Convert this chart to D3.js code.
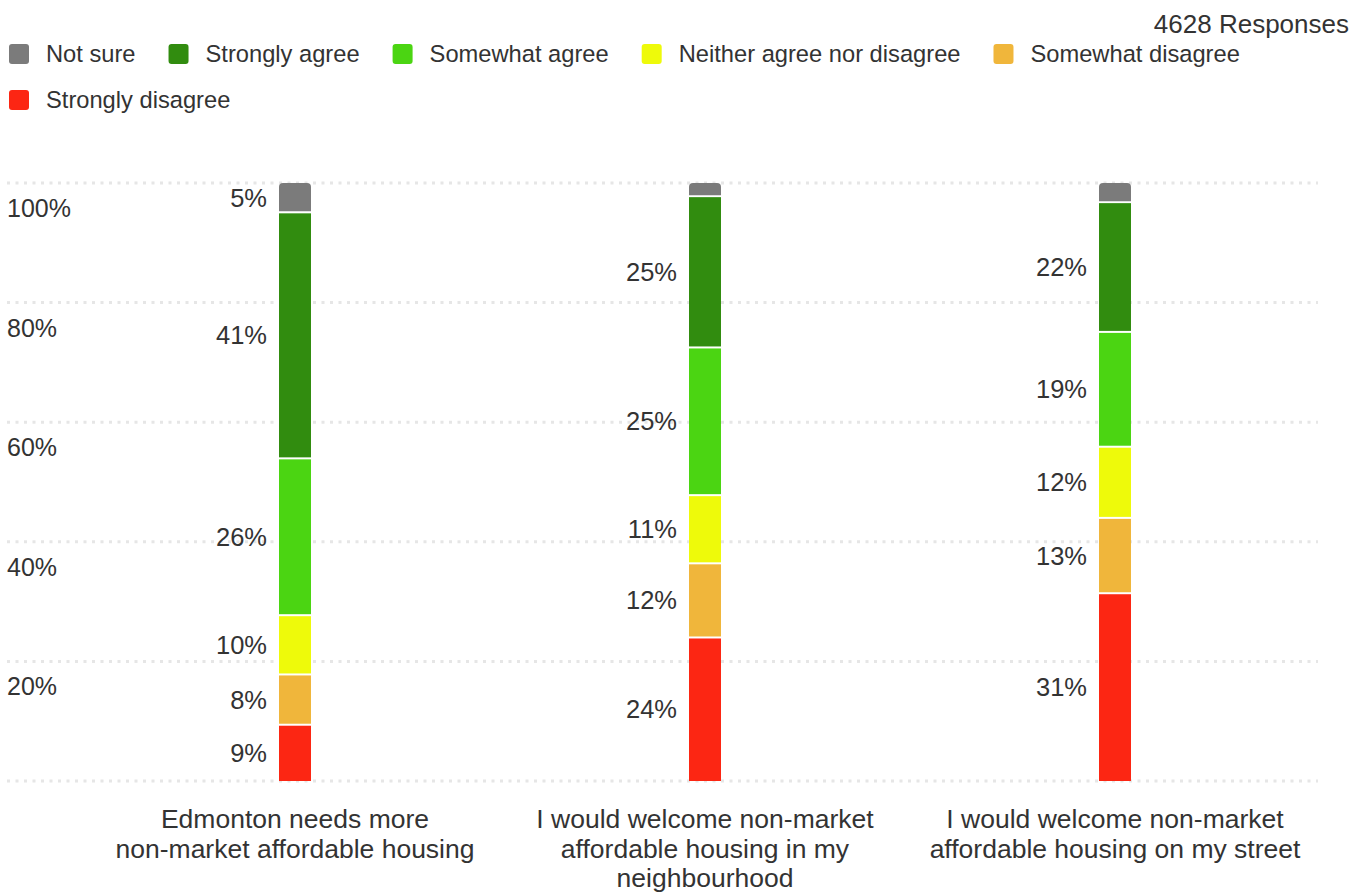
<!DOCTYPE html>
<html>
<head>
<meta charset="utf-8">
<script src="https://cdn.jsdelivr.net/npm/d3@7"></script>
<style>
  body { margin: 0; background: #fff; }
  text { font-family: "Liberation Sans", Arial, Helvetica, sans-serif; fill: #333; }
</style>
</head>
<body>
<div id="chart"></div>
<script>

// Questions (x categories)
var categories = [
    "Edmonton needs more non-market affordable housing",
    "I would welcome non-market affordable housing in my neighbourhood",
    "I would welcome non-market affordable housing on my street"
];

// Answer series, legend order
var seriesNames = ["Not sure", "Strongly agree", "Somewhat agree", "Neither agree nor disagree", "Somewhat disagree", "Strongly disagree"];
var seriesColors = ["#7b7b7b", "#318c0f", "#4bd512", "#eefa0a", "#f0b63b", "#fc2613"];

// Percent of responses, one value per question
var notSure          = [4.9, 2.2, 3.2];
var stronglyAgree    = [41.1, 25.3, 21.7];
var somewhatAgree    = [26.2, 24.7, 19.2];
var neitherAgree     = [9.9, 11.4, 11.9];
var somewhatDisagree = [8.4, 12.4, 12.6];
var stronglyDisagree = [9.4, 24.0, 31.4];

var yTicks = [0.2, 0.4, 0.6, 0.8, 1.0];
var responses = "4628 Responses";

var seriesValues = [notSure, stronglyAgree, somewhatAgree, neitherAgree, somewhatDisagree, stronglyDisagree];

// build table rows for d3.stack
var table = categories.map(function (c, i) {
    var row = { category: c };
    seriesNames.forEach(function (s, j) { row[s] = seriesValues[j][i]; });
    return row;
});

var W = 1372, H = 892;
var svg = d3.select("#chart").append("svg")
    .attr("width", W)
    .attr("height", H);

// Scales
var x = d3.scalePoint().domain(categories).range([90, 1320]).padding(0.5);
var y = d3.scaleLinear().domain([0, 1]).range([781, 183]);
var barW = 32;
var color = d3.scaleOrdinal().domain(seriesNames).range(seriesColors);

// bottom of the stack is "Strongly disagree"
var keys = seriesNames.slice().reverse();
var stacked = d3.stack().keys(keys).offset(d3.stackOffsetExpand)(table);

// gridlines
svg.append("g")
    .selectAll("line")
    .data([0].concat(yTicks))
    .enter().append("line")
    .attr("x1", 7)
    .attr("x2", 1318)
    .attr("y1", function (d) { return y(d); })
    .attr("y2", function (d) { return y(d); })
    .attr("stroke", "#e6e6e6")
    .attr("stroke-width", 3)
    .attr("stroke-dasharray", "3,5.5");

// y labels sit under their line
svg.append("g")
    .selectAll("text")
    .data(yTicks)
    .enter().append("text")
    .attr("x", 7)
    .attr("y", function (d) { return y(d) + 34; })
    .style("font-size", "25px")
    .text(function (d) { return d3.format(".0%")(d); });

// path for a rect with rounded top corners
function topRounded(x0, y0, w, h, r) {
    return "M" + x0 + "," + (y0 + h) +
        "V" + (y0 + r) +
        "Q" + x0 + "," + y0 + " " + (x0 + r) + "," + y0 +
        "H" + (x0 + w - r) +
        "Q" + (x0 + w) + "," + y0 + " " + (x0 + w) + "," + (y0 + r) +
        "V" + (y0 + h) + "Z";
}

var last = keys.length - 1;

stacked.forEach(function (layer, li) {
    var g = svg.append("g").attr("class", "layer");
    layer.forEach(function (d) {
        var cx = x(d.data.category);
        var top = y(d[1]) + (li === last ? 0 : 1);
        var bot = y(d[0]) - (li === 0 ? 0 : 1);
        if (li === last) {
            g.append("path")
                .attr("d", topRounded(cx - barW / 2, top, barW, bot - top, 4))
                .attr("fill", color(layer.key));
        } else {
            g.append("rect")
                .attr("x", cx - barW / 2)
                .attr("y", top)
                .attr("width", barW)
                .attr("height", bot - top)
                .attr("fill", color(layer.key));
        }
        var v = d.data[layer.key];
        if (v >= 4) {
            g.append("text")
                .attr("x", cx - barW / 2 - 12)
                .attr("y", (y(d[0]) + y(d[1])) / 2)
                .attr("text-anchor", "end")
                .attr("dominant-baseline", "central")
                .style("font-size", "25.5px")
                .text(Math.round(v) + "%");
        }
    });
});

// x labels, wrapped
var xg = svg.append("g");
categories.forEach(function (c) {
    var t = xg.append("text")
        .attr("text-anchor", "middle")
        .style("font-size", "26.5px");
    var words = c.split(" "), line = [], lines = [];
    var probe = t.append("tspan");
    words.forEach(function (w) {
        line.push(w);
        probe.text(line.join(" "));
        if (probe.node().getComputedTextLength() > 390 && line.length > 1) {
            line.pop();
            lines.push(line.join(" "));
            line = [w];
        }
    });
    lines.push(line.join(" "));
    probe.remove();
    lines.forEach(function (l, i) {
        t.append("tspan")
            .attr("x", x(c))
            .attr("y", 828 + i * 29.5)
            .text(l);
    });
});

// legend
var legend = svg.append("g");
var lx = 9, row = 0;
seriesNames.forEach(function (s) {
    var item = legend.append("g");
    var label = item.append("text")
        .attr("x", 37)
        .attr("dominant-baseline", "central")
        .style("font-size", "23.7px")
        .text(s);
    var w = 37 + label.node().getComputedTextLength();
    if (lx + w > W - 10) { lx = 9; row++; }
    item.attr("transform", "translate(" + lx + "," + (54 + row * 46) + ")");
    item.append("rect")
        .attr("x", 0)
        .attr("y", -10)
        .attr("width", 20)
        .attr("height", 20)
        .attr("rx", 3)
        .attr("fill", color(s));
    lx += w + 33;
});

svg.append("text")
    .attr("x", 1349)
    .attr("y", 33)
    .attr("text-anchor", "end")
    .style("font-size", "26px")
    .text(responses);

</script>
</body>
</html>
